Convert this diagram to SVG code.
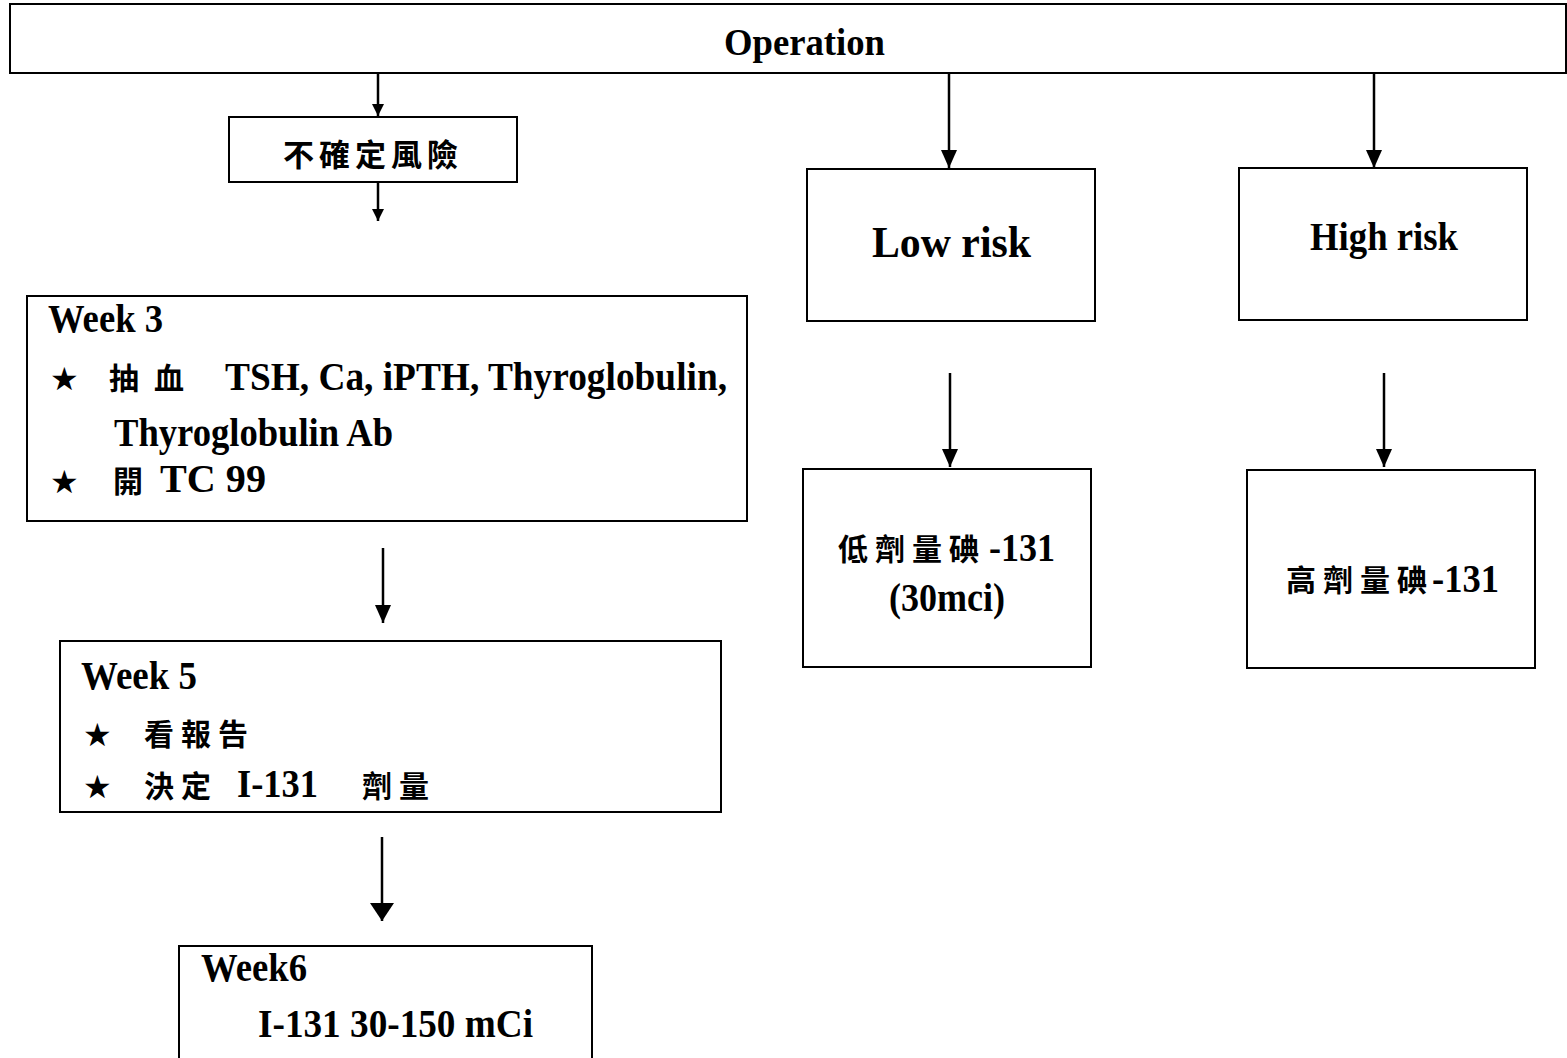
<svg xmlns="http://www.w3.org/2000/svg" width="1567" height="1058" viewBox="0 0 1567 1058">
<style>
.box{fill:#fff;stroke:#000;stroke-width:2}
.t{font-family:"Liberation Serif","Noto Sans CJK TC",serif;font-weight:bold;fill:#000}
.c{font-family:"Noto Sans CJK TC","Noto Sans CJK SC",sans-serif;font-weight:700;fill:#000}
.s{font-family:"DejaVu Sans",sans-serif;fill:#000}
.ln{stroke:#000;stroke-width:2.5;fill:none}
</style>
<defs>
<marker id="ah" markerUnits="userSpaceOnUse" markerWidth="18" markerHeight="16" refX="18" refY="8" orient="auto"><path d="M0,0 L18,8 L0,16 z" fill="#000"/></marker>
<marker id="ahs" markerUnits="userSpaceOnUse" markerWidth="12" markerHeight="14" refX="12" refY="7" orient="auto"><path d="M0,1 L12,7 L0,13 z" fill="#000"/></marker>
<marker id="ahl" markerUnits="userSpaceOnUse" markerWidth="18" markerHeight="24" refX="18" refY="12" orient="auto"><path d="M0,0 L18,12 L0,24 z" fill="#000"/></marker>
</defs>
<rect width="1567" height="1058" fill="#fff"/>
<g id="connectors">
<line class="ln" x1="378" y1="73" x2="378" y2="116" marker-end="url(#ahs)"/>
<line class="ln" x1="378" y1="182" x2="378" y2="221" marker-end="url(#ahs)"/>
<line class="ln" x1="383" y1="548" x2="383" y2="623" marker-end="url(#ah)"/>
<line class="ln" x1="382" y1="837" x2="382" y2="921" stroke-width="3" marker-end="url(#ahl)"/>
<line class="ln" x1="949" y1="73" x2="949" y2="168" marker-end="url(#ah)"/>
<line class="ln" x1="1374" y1="73" x2="1374" y2="168" marker-end="url(#ah)"/>
<line class="ln" x1="950" y1="373" x2="950" y2="467" marker-end="url(#ah)"/>
<line class="ln" x1="1384" y1="373" x2="1384" y2="467" marker-end="url(#ah)"/>
</g>
<g id="operation">
<rect class="box" x="10" y="4" width="1556" height="69"/>
<text class="t" x="724" y="55" font-size="38" textLength="161" lengthAdjust="spacingAndGlyphs">Operation</text>
</g>
<g id="uncertain">
<rect class="box" x="229" y="117" width="288" height="65"/>
<text class="c" x="373" y="166" font-size="31" letter-spacing="5" text-anchor="middle">不確定風險</text>
</g>
<g id="week3">
<rect class="box" x="27" y="296" width="720" height="225"/>
<text class="t" x="48" y="332" font-size="40" textLength="115" lengthAdjust="spacingAndGlyphs">Week 3</text>
<text class="s" x="50" y="390" font-size="32">★</text>
<text class="c" x="109" y="389" font-size="30">抽</text>
<text class="c" x="154" y="389" font-size="30">血</text>
<text class="t" x="225" y="390" font-size="40" textLength="502" lengthAdjust="spacingAndGlyphs">TSH, Ca, iPTH, Thyroglobulin,</text>
<text class="t" x="114" y="446" font-size="40" textLength="279" lengthAdjust="spacingAndGlyphs">Thyroglobulin Ab</text>
<text class="s" x="50" y="493" font-size="32">★</text>
<text class="c" x="113" y="492" font-size="30">開</text>
<text class="t" x="160" y="492" font-size="40" textLength="106" lengthAdjust="spacingAndGlyphs">TC 99</text>
</g>
<g id="week5">
<rect class="box" x="60" y="641" width="661" height="171"/>
<text class="t" x="81" y="689" font-size="40" textLength="116" lengthAdjust="spacingAndGlyphs">Week 5</text>
<text class="s" x="83" y="746" font-size="32">★</text>
<text class="c" x="144" y="745" font-size="30" letter-spacing="7">看報告</text>
<text class="s" x="83" y="798" font-size="32">★</text>
<text class="c" x="144" y="797" font-size="30" letter-spacing="7">決定</text>
<text class="t" x="237" y="797" font-size="40" textLength="81" lengthAdjust="spacingAndGlyphs">I-131</text>
<text class="c" x="362" y="797" font-size="30" letter-spacing="7">劑量</text>
</g>
<g id="week6">
<rect class="box" x="179" y="946" width="413" height="120"/>
<text class="t" x="201" y="981" font-size="40" textLength="106" lengthAdjust="spacingAndGlyphs">Week6</text>
<text class="t" x="258" y="1037" font-size="40" textLength="275" lengthAdjust="spacingAndGlyphs">I-131 30-150 mCi</text>
</g>
<g id="lowrisk">
<rect class="box" x="807" y="169" width="288" height="152"/>
<text class="t" x="872" y="257" font-size="44" textLength="159" lengthAdjust="spacingAndGlyphs">Low risk</text>
</g>
<g id="highrisk">
<rect class="box" x="1239" y="168" width="288" height="152"/>
<text class="t" x="1310" y="250" font-size="41" textLength="148" lengthAdjust="spacingAndGlyphs">High risk</text>
</g>
<g id="lowdose">
<rect class="box" x="803" y="469" width="288" height="198"/>
<text class="c" x="838" y="560" font-size="30" letter-spacing="7">低劑量碘</text>
<text class="t" x="989" y="561" font-size="40" textLength="66" lengthAdjust="spacingAndGlyphs">-131</text>
<text class="t" x="889" y="611" font-size="40" textLength="116" lengthAdjust="spacingAndGlyphs">(30mci)</text>
</g>
<g id="highdose">
<rect class="box" x="1247" y="470" width="288" height="198"/>
<text class="c" x="1286" y="591" font-size="30" letter-spacing="7">高劑量碘</text>
<text class="t" x="1432" y="592" font-size="40" textLength="67" lengthAdjust="spacingAndGlyphs">-131</text>
</g>
</svg>
